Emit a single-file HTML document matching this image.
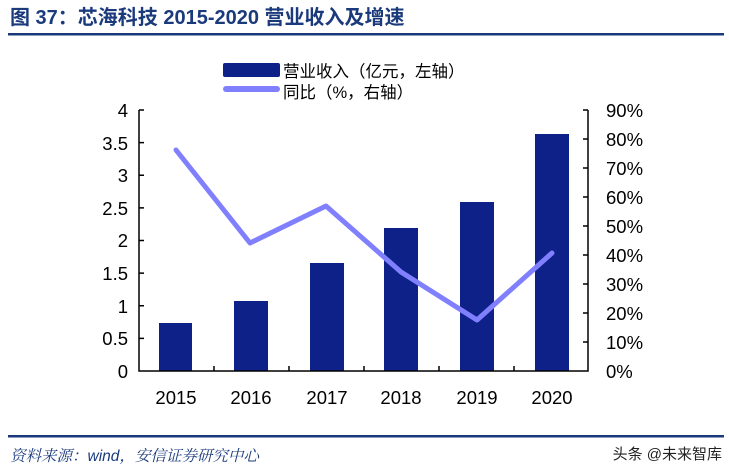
<!DOCTYPE html>
<html><head><meta charset="utf-8"><style>
body{margin:0;background:#fff;width:729px;height:471px;overflow:hidden}
svg{display:block}
</style></head><body>
<svg width="729" height="471" xmlns="http://www.w3.org/2000/svg" font-family="'Liberation Sans','Noto Sans CJK SC',sans-serif">
<text x="10" y="24" font-size="20" font-weight="bold" fill="#1a3a7c" font-family="'Liberation Sans','Noto Sans CJK SC',sans-serif">图 37：芯海科技 2015-2020 营业收入及增速</text>
<rect x="8" y="33" width="716" height="2.5" fill="#1a3a7c"/>
<rect x="223" y="63" width="57" height="14" rx="2" fill="#0d2189"/>
<text x="283" y="77" font-size="16.5" fill="#000">营业收入（亿元，左轴）</text>
<rect x="223" y="86" width="57" height="6" rx="3" fill="#8080ff"/>
<text x="283" y="98" font-size="16.5" fill="#000">同比（%，右轴）</text>
<g fill="#0d2189">
<rect x="159" y="323" width="33" height="48"/>
<rect x="234" y="301" width="34" height="70"/>
<rect x="310" y="263" width="34" height="108"/>
<rect x="384" y="228" width="34" height="143"/>
<rect x="460" y="202" width="34" height="169"/>
<rect x="535" y="134" width="34" height="237"/>
</g>
<g stroke="#000" stroke-width="1.5" fill="none">
<path d="M139 110V371H588V110"/>
<path d="M139 110h5M139 142.6h5M139 175.3h5M139 207.9h5M139 240.5h5M139 273.1h5M139 305.8h5M139 338.4h5"/>
<path d="M588 110h-5M588 139h-5M588 168h-5M588 197h-5M588 226h-5M588 255h-5M588 284h-5M588 313h-5M588 342h-5"/>
<path d="M214 371v-5M289 371v-5M364 371v-5M439 371v-5M514 371v-5"/>
</g>
<polyline points="176,150 250,243 326,206 401,272 477,320 552,253" fill="none" stroke="#8080ff" stroke-width="5" stroke-linejoin="round" stroke-linecap="round"/>
<g font-size="18.5" fill="#000" text-anchor="end">
<text x="128" y="117">4</text><text x="128" y="150">3.5</text><text x="128" y="182">3</text><text x="128" y="215">2.5</text><text x="128" y="247">2</text><text x="128" y="280">1.5</text><text x="128" y="313">1</text><text x="128" y="345">0.5</text><text x="128" y="378">0</text>
</g>
<g font-size="18.5" fill="#000">
<text x="606" y="117">90%</text><text x="606" y="146">80%</text><text x="606" y="175">70%</text><text x="606" y="204">60%</text><text x="606" y="233">50%</text><text x="606" y="262">40%</text><text x="606" y="291">30%</text><text x="606" y="320">20%</text><text x="606" y="349">10%</text><text x="606" y="378">0%</text>
</g>
<g font-size="18.5" fill="#000" text-anchor="middle">
<text x="176" y="404">2015</text><text x="251" y="404">2016</text><text x="327" y="404">2017</text><text x="401" y="404">2018</text><text x="477" y="404">2019</text><text x="552" y="404">2020</text>
</g>
<rect x="8" y="435" width="716" height="2.5" fill="#1a3a7c"/>
<text x="10" y="461" font-size="15.5" font-style="italic" fill="#1a3a7c" font-family="'Liberation Sans','Noto Serif CJK SC',serif">资料来源：wind，安信证券研究中心</text>
<text x="722" y="459" font-size="15" fill="#222" text-anchor="end">头条 @未来智库</text>
</svg>
</body></html>
